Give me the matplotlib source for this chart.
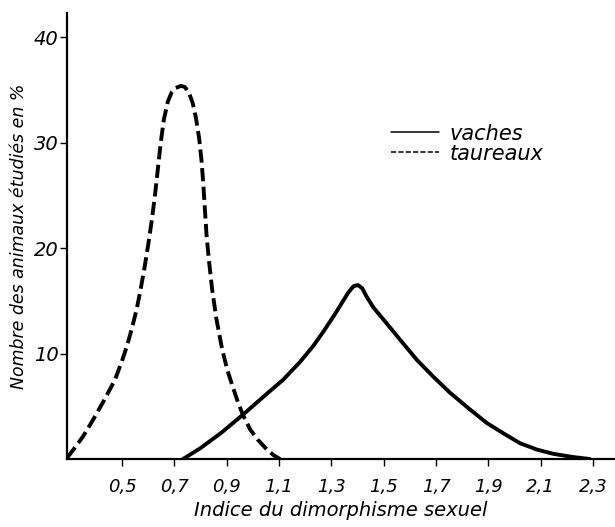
import matplotlib
matplotlib.use("Agg")
import matplotlib.pyplot as plt

# Data
taureaux_x = [0.29, 0.313, 0.35, 0.389, 0.43, 0.473, 0.50, 0.52, 0.54, 0.555,
              0.569, 0.585, 0.60, 0.613, 0.625, 0.637, 0.648, 0.66, 0.675, 0.69,
              0.705, 0.725, 0.74, 0.755, 0.77, 0.783, 0.795, 0.804, 0.811, 0.817,
              0.823, 0.832, 0.844, 0.86, 0.882, 0.903, 0.924, 0.943, 0.962, 0.99,
              1.02, 1.054, 1.08, 1.104]
taureaux_y = [0.1, 0.85, 2.1, 3.7, 5.5, 7.5, 9.3, 10.8, 12.6, 14.1,
              15.8, 18.0, 20.3, 22.5, 24.8, 27.5, 30.0, 32.2, 33.9, 34.8,
              35.2, 35.4, 35.3, 34.8, 33.8, 32.3, 30.4, 28.3, 26.0, 23.6,
              21.3, 18.9, 16.2, 13.4, 10.5, 8.4, 6.8, 5.4, 4.2, 2.8,
              1.8, 0.9, 0.35, 0.0]

vaches_x = [0.733, 0.798, 0.88, 0.962, 1.04, 1.115, 1.18, 1.23, 1.27, 1.31,
            1.34, 1.365, 1.385, 1.402, 1.418, 1.435, 1.46, 1.497, 1.56, 1.627,
            1.69, 1.753, 1.825, 1.895, 1.96, 2.021, 2.085, 2.147, 2.22, 2.288]
vaches_y = [0.0, 1.0, 2.5, 4.2, 5.9, 7.5, 9.2, 10.7, 12.1, 13.6,
            14.8, 15.8, 16.4, 16.5, 16.2, 15.4, 14.4, 13.3, 11.4, 9.4,
            7.8, 6.3, 4.8, 3.4, 2.4, 1.5, 0.9, 0.5, 0.2, 0.0]

x_ticks = [0.5, 0.7, 0.9, 1.1, 1.3, 1.5, 1.7, 1.9, 2.1, 2.3]
x_tick_labels = ["0,5", "0,7", "0,9", "1,1", "1,3", "1,5", "1,7", "1,9", "2,1", "2,3"]
y_ticks = [10, 20, 30, 40]
y_tick_labels = ["10", "20", "30", "40"]

fig = plt.figure(figsize=(6.15, 5.27), dpi=100)
ax = fig.add_axes([0.109, 0.129, 0.891, 0.846])

ax.plot(vaches_x, vaches_y, color="black", lw=2.8, solid_capstyle="round",
        solid_joinstyle="round", label="vaches")
ax.plot(taureaux_x, taureaux_y, color="black", lw=2.8, dashes=(3.4, 1.4),
        label="taureaux")

ax.set_xlim(0.29, 2.384)
ax.set_ylim(0, 42.3)
for s in ["top", "right"]:
    ax.spines[s].set_visible(False)
for s in ["left", "bottom"]:
    ax.spines[s].set_linewidth(1.6)

ax.set_xticks(x_ticks)
ax.set_xticklabels(x_tick_labels, fontstyle="italic", fontsize=13)
ax.set_yticks(y_ticks)
ax.set_yticklabels(y_tick_labels, fontstyle="italic", fontsize=14)
ax.tick_params(axis="x", direction="out", length=5, width=1.0, pad=9)
ax.tick_params(axis="y", direction="out", length=5, width=1.0, pad=1)

ax.set_xlabel("Indice du dimorphisme sexuel", fontstyle="italic", fontsize=14,
              labelpad=3)
ax.set_ylabel("Nombre des animaux étudiés en %", fontstyle="italic",
              fontsize=12.5, labelpad=4)

leg = ax.legend(loc="upper left", bbox_to_anchor=(0.591, 0.752), frameon=False,
                handlelength=2.3, borderpad=0, borderaxespad=0,
                prop={"style": "italic", "size": 15},
                labelspacing=0.0, handletextpad=0.5)
for h in leg.get_lines():
    h.set_linewidth(1.1)

fig.savefig("out.png", dpi=100)
